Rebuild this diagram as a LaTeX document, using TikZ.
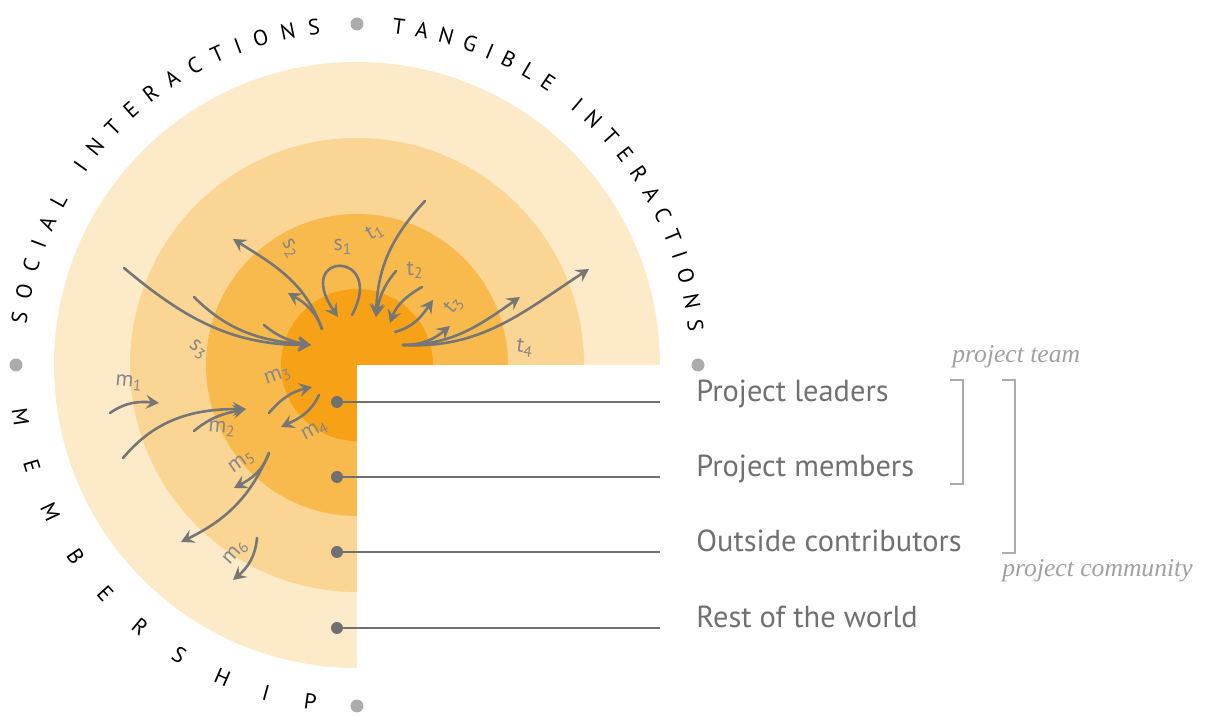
\documentclass[tikz,border=0pt]{standalone}
\usepackage{fontspec}
\setsansfont{PT Sans}
\newfontfamily\groupfont{Liberation Serif}
\usepackage{xcolor}
\usepackage{tikz}
\usetikzlibrary{arrows.meta, decorations.text}
\definecolor{ringA}{RGB}{253, 234, 200}
\definecolor{ringB}{RGB}{251, 213, 148}
\definecolor{ringC}{RGB}{249, 186, 77}
\definecolor{ringD}{RGB}{247, 162, 22}
\definecolor{flowGray}{RGB}{118, 118, 118}
\definecolor{tagGray}{RGB}{135, 135, 135}
\definecolor{textGray}{RGB}{112, 112, 112}
\definecolor{markGray}{RGB}{172, 172, 172}
\definecolor{groupGray}{RGB}{160, 160, 160}
\newcommand{\arcfont}{\sffamily\fontsize{11}{13}\selectfont}
\tikzset{
    flow/.style={
        -{Stealth[length=6.5pt, width=7pt, inset=2.5pt]},
        line width=1.3pt,
        color=flowGray,
        line cap=round
    },
    tag/.style={
        font=\sffamily\fontsize{11}{12}\selectfont,
        text=tagGray,
        inner sep=0pt
    },
    leveldot/.style={
        circle,
        fill=textGray,
        inner sep=0pt,
        minimum size=6pt
    },
    leader/.style={
        line width=0.75pt,
        color=textGray
    },
    level/.style={
        font=\sffamily\fontsize{15.2}{18}\selectfont,
        text=textGray,
        anchor=base west,
        inner sep=0pt
    },
    bracket/.style={
        line width=0.75pt,
        color=markGray
    },
    group/.style={
        font=\groupfont\itshape\fontsize{12.8}{15}\selectfont,
        text=groupGray,
        anchor=base west,
        inner sep=0pt
    },
    arctext/.style={
        decorate,
        decoration={text along path, text align={fit to path}, text={|\arcfont|#1}}
    }
}

\begin{document}
\begin{tikzpicture}[x=0.5pt, y=0.5pt]
  \useasboundingbox (-357,-351) rectangle (854,365);

  % Rings
  \foreach \r/\c in {303/ringA, 227/ringB, 151/ringC, 76/ringD}
    \fill[\c] (0,0) -- (\r,0) arc (0:270:\r) -- cycle;

  % Separators
  \foreach \a in {0,90,180,270}
    \fill[markGray] (\a:341) circle (6.5);

  % Circular titles
  \path[arctext={SOCIAL INTERACTIONS}] (173:333) arc (173:96.3:333);
  \path[arctext={TANGIBLE INTERACTIONS}] (84:333) arc (84:5.7:333);
  \path[arctext={MEMBERSHIP}] (187.3:348) arc (187.3:263.1:348);

  % Social interactions
  \coordinate (shub) at (-35,36);
  \coordinate (stip) at (-46,20);
  \draw[flow] (-233,97) to[out=-40, in=180] (stip);
  \draw[flow] (-163,68) to[out=-45, in=175] (stip);
  \draw[flow] (-93,40) to[out=-40, in=170] (stip);
  \draw[flow] (shub) to[out=110, in=-32] (-124,126);
  \draw[flow] (shub) to[out=110, in=-30] (-69,72);
  \draw[flow] (-5,50) .. controls (30,115) and (-65,115) .. (-19,48);

  % Tangible interactions
  \coordinate (ttip) at (19,48);
  \coordinate (thub) at (46,20);
  \draw[flow] (68,164) to[out=-133, in=88] (ttip);
  \draw[flow] (39,94) to[out=-130, in=80] (ttip);
  \draw[flow] (65,78) to[out=-150, in=70] (33,42);
  \draw[flow] (38,33) to[out=15, in=-125] (76,65);
  \draw[flow] (thub) to[out=0, in=-140] (93,39);
  \draw[flow] (thub) to[out=0, in=-145] (163,68);
  \draw[flow] (thub) to[out=-3, in=-147] (232,96);

  % Membership
  \coordinate (mtip) at (-111,-44);
  \coordinate (mhub) at (-88,-88);
  \draw[flow] (-247,-48) to[out=35, in=175] (-198,-38);
  \draw[flow] (-234,-93) to[out=50, in=180] (mtip);
  \draw[flow] (-163,-66) to[out=40, in=-168] (mtip);
  \draw[flow] (-88,-48) to[out=50, in=-167] (-45,-22);
  \draw[flow] (-38,-30) to[out=-115, in=25] (-76,-62);
  \draw[flow] (mhub) to[out=-110, in=28] (-123,-123);
  \draw[flow] (mhub) to[out=-113, in=26] (-176,-177);
  \draw[flow] (-100,-173) to[out=-95, in=40] (-124,-215);

  % Tags
  \node[tag] (s1) at (-14,118) {s\textsubscript{1}};
  \node[tag, rotate=-60] (s2) at (-67,116) {s\textsubscript{2}};
  \node[tag, rotate=-40] (s3) at (-159,15) {s\textsubscript{3}};
  \node[tag, rotate=30] (t1) at (18,133) {t\textsubscript{1}};
  \node[tag] (t2) at (58,95) {t\textsubscript{2}};
  \node[tag, rotate=50] (t3) at (97,60) {t\textsubscript{3}};
  \node[tag, rotate=-8] (t4) at (168,17) {t\textsubscript{4}};
  \node[tag, rotate=-5] (m1) at (-228,-18) {m\textsubscript{1}};
  \node[tag, rotate=-5] (m2) at (-135,-64) {m\textsubscript{2}};
  \node[tag, rotate=20] (m3) at (-79,-11) {m\textsubscript{3}};
  \node[tag, rotate=28] (m4) at (-42,-66) {m\textsubscript{4}};
  \node[tag, rotate=35] (m5) at (-115,-97) {m\textsubscript{5}};
  \node[tag, rotate=48] (m6) at (-121,-188) {m\textsubscript{6}};

  % Levels
  \foreach \i/\y/\txt in {1/-37/Project leaders, 2/-112/Project members,
                          3/-187/Outside contributors, 4/-263/Rest of the world} {
    \node[leveldot] (d\i) at (-20,\y) {};
    \coordinate (e\i) at (303,\y);
    \draw[leader] (d\i.center) -- (e\i);
    \node[level] (l\i) at (339,\y) {\txt};
  }

  % Groups
  \draw[bracket] (593,-15) -- (606,-15) -- (606,-119) -- (593,-119);
  \draw[bracket] (645,-15) -- (658,-15) -- (658,-188) -- (645,-188);
  \node[group] (team) at (595,2) {project team};
  \node[group] (community) at (645,-212) {project community};
\end{tikzpicture}
\end{document}
